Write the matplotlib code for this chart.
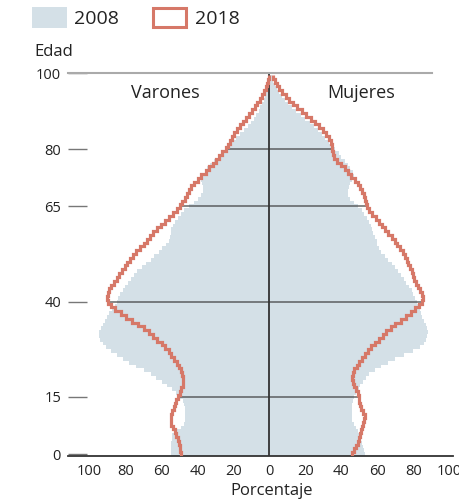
import matplotlib.pyplot as plt
from matplotlib.patches import Rectangle
import numpy as np

plt.rcParams['font.family'] = ['Open Sans', 'DejaVu Sans']

# Single-year ages 0..99, values per sex
ages = np.arange(100)

men_2008 = [
    55, 55, 54.5, 54.5, 54, 54, 53, 49, 47.5, 47,
    47, 47, 47, 47.5, 48, 50, 52, 54, 57, 60,
    63, 66, 70, 74, 78, 81.5, 85, 88, 91, 92.5,
    94, 94.5, 94.5, 93.5, 92.5, 91.5, 90.5, 89, 87.5, 86,
    85, 84, 83, 81.5, 80.5, 78.5, 77, 75.5, 73.5, 71,
    68.5, 66, 64, 61.5, 59.5, 57.5, 56, 55.5, 55, 54.5,
    53.5, 52.5, 51, 49, 47.5, 45, 42, 40, 38, 37,
    37, 37.5, 38, 37.5, 36, 34.5, 33, 31, 28.5, 26.5,
    25, 23, 21, 18.5, 16.5, 14, 12, 10.5, 8.5, 7.5,
    6, 5, 4, 3, 2.5, 2, 1.5, 1, 0.8, 0.5,
]

men_2018 = [
    49, 49.5, 50, 50.5, 51, 52, 52.5, 53.5, 54.5, 54.5,
    54.5, 54, 53, 52.5, 52, 51, 50, 49, 48, 48,
    48, 48.5, 49, 50.5, 51.5, 53, 54.5, 56, 58, 60,
    62.5, 64.5, 67, 70, 73, 76.5, 79.5, 82.5, 86, 88,
    90, 90.5, 90, 89, 88, 86.5, 85, 83.5, 82, 80.5,
    79, 77.5, 76, 74, 72, 70, 68, 66.5, 64.5, 62.5,
    60.5, 58, 56, 53.5, 51.5, 50, 48.5, 47, 46, 45,
    43.5, 42, 40, 38, 35.5, 33.5, 31.5, 30, 28, 26.5,
    24, 23, 22, 21, 19.5, 18, 16.5, 15, 13, 11.5,
    9.5, 8, 7, 5.5, 4, 3, 2, 1.5, 1, 0.5,
]

women_2008 = [
    53, 52.5, 52, 51.5, 51, 50, 49, 48, 47, 46,
    46, 46, 46, 46, 46.5, 47, 48, 49.5, 50.5, 52,
    53.5, 55.5, 58.5, 62, 66, 70, 75, 79.5, 83.5, 86,
    87, 87.5, 88, 87.5, 87, 86, 85, 84, 83.5, 83,
    82, 81, 80, 79, 77.5, 76, 74.5, 73, 71.5, 69.5,
    68, 66, 64, 62, 61, 60, 59.5, 58.5, 57.5, 57,
    56.5, 55.5, 54, 52.5, 51.5, 49, 47, 45, 43.5, 43.5,
    44, 44.5, 46, 47, 46.5, 45, 43.5, 42, 40, 38.5,
    36.5, 35, 33, 31, 29, 27, 25, 22.5, 20, 17.5,
    15, 12.5, 10.5, 8.5, 7, 5.5, 4, 3, 2, 1.5,
]

women_2018 = [
    46, 47, 48, 49, 50, 50.5, 51, 51.5, 52, 52.5,
    53, 52, 51, 50.5, 50, 49.5, 49, 48, 47, 46.5,
    46, 46.5, 47, 48.5, 50, 51.5, 53, 55, 56.5, 58.5,
    61, 63, 65, 67.5, 70, 73, 76, 78.5, 81, 83,
    84.5, 85.5, 85, 83.5, 82.5, 81.5, 80.5, 80, 79, 78,
    77, 76.5, 75.5, 74, 72.5, 71, 69.5, 68, 66, 64,
    62.5, 61, 59, 57, 55.5, 54, 53.5, 53, 52.5, 51.5,
    50.5, 49, 47.5, 45.5, 43.5, 42, 40, 37.5, 36, 35.5,
    35, 34.5, 34, 33, 31.5, 29.5, 27.5, 25.5, 23, 20.5,
    18, 15.5, 13, 11, 9, 7, 5.5, 4, 3, 2,
]

age_ticks = [0, 15, 40, 65, 80, 100]
grid_ages = [15, 40, 65, 80]
pct_ticks = [-100, -80, -60, -40, -20, 0, 20, 40, 60, 80, 100]

FILL = '#d4e0e7'
LINE = '#d67868'
TEXT = '#222222'
DARK = '#333333'

fig = plt.figure(figsize=(4.6, 5.0), dpi=100)
ax = fig.add_axes([68 / 460, 1 - 456 / 500, 385 / 460, 383 / 500])

edges = np.append(ages - 0.5, ages[-1] + 0.5)

# 2008 as filled steps, men to the left
ax.stairs(-np.array(men_2008), edges, orientation='horizontal',
          baseline=0, fill=True, color=FILL, lw=0, zorder=1)
ax.stairs(np.array(women_2008), edges, orientation='horizontal',
          baseline=0, fill=True, color=FILL, lw=0, zorder=1)

# reference lines across the 2018 profile
for a in grid_ages:
    ax.plot([-men_2018[a], women_2018[a]], [a, a], color=DARK,
            alpha=0.75, lw=1.1, zorder=2)
ax.plot([0, 0], [-0.5, 100], color=DARK, lw=1.3, zorder=2)
ax.plot([-112, 90.5], [100, 100], color='#aaaaaa', lw=1.5,
        zorder=2, clip_on=False)

# 2018 as outline steps
ax.stairs(-np.array(men_2018), edges, orientation='horizontal',
          baseline=None, color=LINE, lw=2.3, zorder=3)
ax.stairs(np.array(women_2018), edges, orientation='horizontal',
          baseline=None, color=LINE, lw=2.3, zorder=3)

ax.set_xlim(-112, 102)
ax.set_ylim(-0.5, 100)
for side in ['top', 'right', 'left']:
    ax.spines[side].set_visible(False)
ax.spines['bottom'].set_color(DARK)
ax.spines['bottom'].set_linewidth(1.3)

ax.set_yticks(age_ticks)
ax.tick_params(axis='y', direction='in', length=13.5, width=1,
               color='#777777', pad=5, labelsize=10.5, labelcolor=TEXT)
ax.set_xticks(pct_ticks)
ax.set_xticklabels([str(abs(t)) for t in pct_ticks])
ax.tick_params(axis='x', length=0, pad=6, labelsize=10.5, labelcolor=TEXT)

ax.text(-58, 94.8, 'Varones', ha='center', va='center', fontsize=13, color=TEXT)
ax.text(51, 94.8, 'Mujeres', ha='center', va='center', fontsize=13, color=TEXT)

fig.text(54 / 460, 1 - 52 / 500, 'Edad', ha='center', va='center',
         fontsize=12, color=TEXT)
fig.text(272 / 460, 1 - 491 / 500, 'Porcentaje', ha='center', va='center',
         fontsize=12, color=TEXT)

# legend drawn by hand at the top
fig.add_artist(Rectangle((32 / 460, 1 - 28 / 500), 35 / 460, 21 / 500,
                         transform=fig.transFigure, facecolor=FILL, lw=0))
fig.add_artist(Rectangle((153 / 460, 1 - 27 / 500), 33 / 460, 19 / 500,
                         transform=fig.transFigure, fill=False,
                         edgecolor=LINE, lw=2.2))
fig.text(74 / 460, 1 - 19 / 500, '2008', ha='left', va='center',
         fontsize=14, color=TEXT)
fig.text(195 / 460, 1 - 19 / 500, '2018', ha='left', va='center',
         fontsize=14, color=TEXT)

fig.savefig('out.png', dpi=100)
